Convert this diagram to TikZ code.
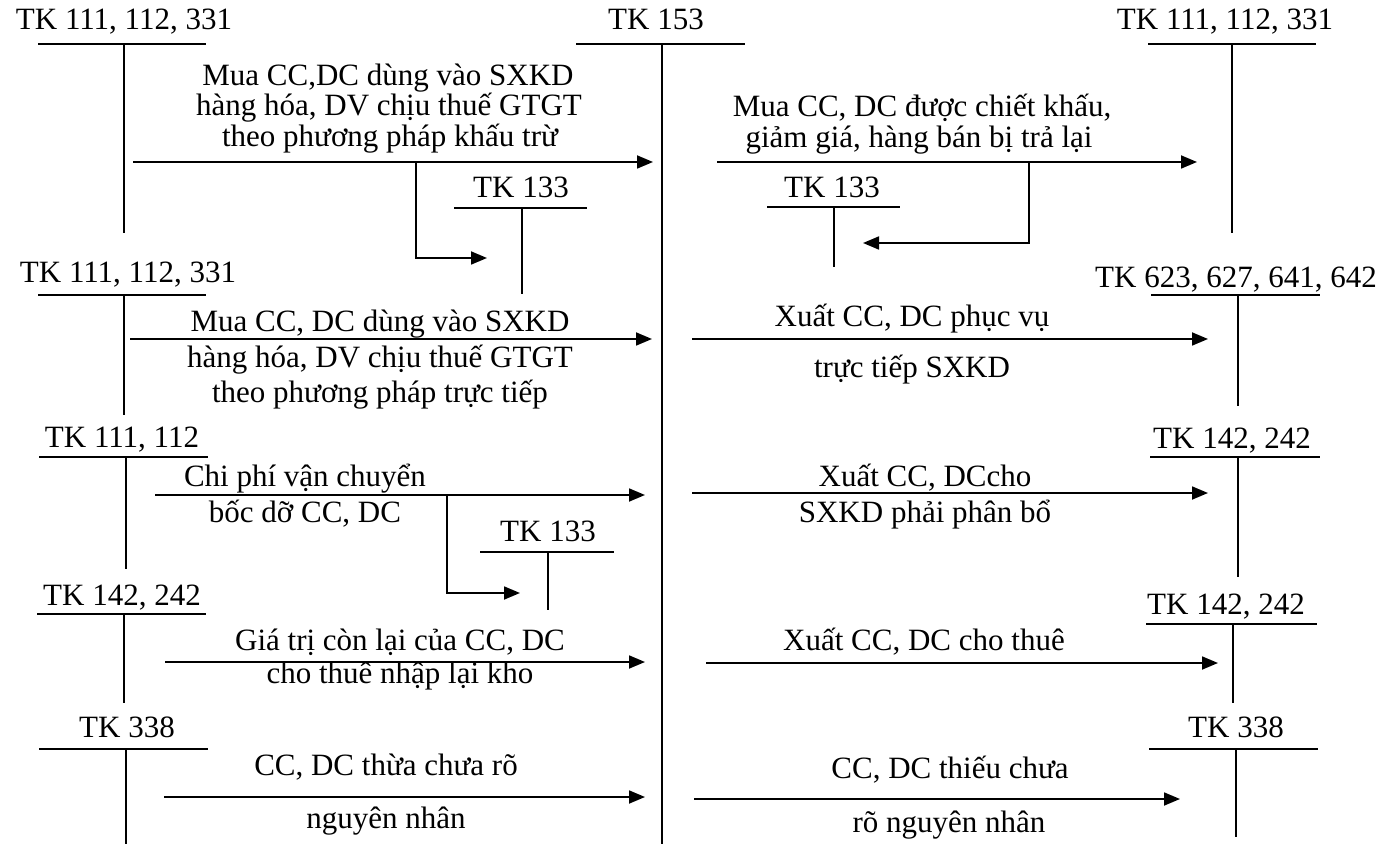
\documentclass[tikz,border=0pt]{standalone}
\usepackage{fontspec}
\setmainfont{Liberation Serif}
\usetikzlibrary{arrows.meta}

\begin{document}
\begin{tikzpicture}[x=0.5pt, y=-0.5pt,
    >={Triangle[length=8pt, width=6.5pt]},
    lbl/.style={anchor=base, inner sep=0pt, font=\fontsize{15.5}{18}\selectfont},
    bar/.style={line width=1pt},
    stem/.style={line width=0.65pt},
    flow/.style={->, line width=0.9pt}]
    \useasboundingbox (0,0) rectangle (1397,844);

    % 1. Tài khoản 153 ở giữa
    \node[lbl] (tk153) at (656,30) {TK 153};
    \draw[bar] (576,44) -- (745,44);
    \draw[stem] (662,44) -- (662,844);

    % 2. Các tài khoản bên trái
    \node[lbl] (tkL1) at (124,30) {TK 111, 112, 331};
    \draw[bar] (38,44) -- (206,44);
    \draw[stem] (124,44) -- (124,233);
    \node[lbl] (tkL2) at (128,283) {TK 111, 112, 331};
    \draw[bar] (38,295) -- (206,295);
    \draw[stem] (124,295) -- (124,415);
    \node[lbl] (tkL3) at (122,448) {TK 111, 112};
    \draw[bar] (39,457) -- (208,457);
    \draw[stem] (126,457) -- (126,569);
    \node[lbl] (tkL4) at (122,605) {TK 142, 242};
    \draw[bar] (37,614) -- (206,614);
    \draw[stem] (124,614) -- (124,703);
    \node[lbl] (tkL5) at (127,737) {TK 338};
    \draw[bar] (39,749) -- (208,749);
    \draw[stem] (126,749) -- (126,844);

    % 3. Các tài khoản 133
    \node[lbl] (vat1) at (521,198) {TK 133};
    \draw[bar] (454,208) -- (587,208);
    \draw[stem] (522,208) -- (522,294);
    \node[lbl] (vat2) at (832,198) {TK 133};
    \draw[bar] (767,207) -- (900,207);
    \draw[stem] (834,207) -- (834,267);
    \node[lbl] (vat3) at (548,541) {TK 133};
    \draw[bar] (480,552) -- (614,552);
    \draw[stem] (548,552) -- (548,610);

    % 4. Các tài khoản bên phải
    \node[lbl] (tkR1) at (1225,30) {TK 111, 112, 331};
    \draw[bar] (1148,44) -- (1316,44);
    \draw[stem] (1232,44) -- (1232,233);
    \node[lbl] (tkR2) at (1236,288) {TK 623, 627, 641, 642};
    \draw[bar] (1151,295) -- (1320,295);
    \draw[stem] (1238,295) -- (1238,406);
    \node[lbl] (tkR3) at (1232,449) {TK 142, 242};
    \draw[bar] (1150,457) -- (1320,457);
    \draw[stem] (1238,457) -- (1238,577);
    \node[lbl] (tkR4) at (1226,614) {TK 142, 242};
    \draw[bar] (1146,624) -- (1317,624);
    \draw[stem] (1233,624) -- (1233,703);
    \node[lbl] (tkR5) at (1236,737) {TK 338};
    \draw[bar] (1149,749) -- (1318,749);
    \draw[stem] (1236,749) -- (1236,837);

    % 5. Các mũi tên ghi Nợ TK 153
    \coordinate (a1s) at (133,162);  \coordinate (a1e) at (653,162);
    \coordinate (a1k) at (416,162);  \coordinate (a1t) at (487,258);
    \draw[flow] (a1s) -- (a1e);
    \draw[flow] (a1k) |- (a1t);
    \node[lbl] (a1x) at (388,86) {Mua CC,DC dùng vào SXKD};
    \node[lbl] (a1y) at (389,116) {hàng hóa, DV chịu thuế GTGT};
    \node[lbl] (a1z) at (390,147) {theo phương pháp khấu trừ};

    \coordinate (a2s) at (130,339);  \coordinate (a2e) at (652,339);
    \draw[flow] (a2s) -- (a2e);
    \node[lbl] (a2x) at (380,332) {Mua CC, DC dùng vào SXKD};
    \node[lbl] (a2y) at (380,368) {hàng hóa, DV chịu thuế GTGT};
    \node[lbl] (a2z) at (380,402) {theo phương pháp trực tiếp};

    \coordinate (a3s) at (155,495);  \coordinate (a3e) at (645,495);
    \coordinate (a3k) at (447,495);  \coordinate (a3t) at (520,593);
    \draw[flow] (a3s) -- (a3e);
    \draw[flow] (a3k) |- (a3t);
    \node[lbl] (a3x) at (305,487) {Chi phí vận chuyển};
    \node[lbl] (a3y) at (305,522) {bốc dỡ CC, DC};

    \coordinate (a4s) at (165,662);  \coordinate (a4e) at (645,662);
    \draw[flow] (a4s) -- (a4e);
    \node[lbl] (a4x) at (400,650) {Giá trị còn lại của CC, DC};
    \node[lbl] (a4y) at (400,683) {cho thuê nhập lại kho};

    \coordinate (a5s) at (164,797);  \coordinate (a5e) at (645,797);
    \draw[flow] (a5s) -- (a5e);
    \node[lbl] (a5x) at (386,775) {CC, DC thừa chưa rõ};
    \node[lbl] (a5y) at (386,828) {nguyên nhân};

    % 6. Các mũi tên ghi Có TK 153
    \coordinate (b1s) at (717,162);  \coordinate (b1e) at (1197,162);
    \coordinate (b1k) at (1029,162); \coordinate (b1t) at (863,243);
    \draw[flow] (b1s) -- (b1e);
    \draw[flow] (b1k) |- (b1t);
    \node[lbl] (b1x) at (922,117) {Mua CC, DC được chiết khấu,};
    \node[lbl] (b1y) at (919,148) {giảm giá, hàng bán bị trả lại};

    \coordinate (b2s) at (692,339);  \coordinate (b2e) at (1208,339);
    \draw[flow] (b2s) -- (b2e);
    \node[lbl] (b2x) at (912,327) {Xuất CC, DC phục vụ};
    \node[lbl] (b2y) at (912,378) {trực tiếp SXKD};

    \coordinate (b3s) at (692,493);  \coordinate (b3e) at (1208,493);
    \draw[flow] (b3s) -- (b3e);
    \node[lbl] (b3x) at (925,487) {Xuất CC, DCcho};
    \node[lbl] (b3y) at (925,522) {SXKD phải phân bổ};

    \coordinate (b4s) at (706,663);  \coordinate (b4e) at (1218,663);
    \draw[flow] (b4s) -- (b4e);
    \node[lbl] (b4x) at (924,650) {Xuất CC, DC cho thuê};

    \coordinate (b5s) at (694,799);  \coordinate (b5e) at (1180,799);
    \draw[flow] (b5s) -- (b5e);
    \node[lbl] (b5x) at (950,778) {CC, DC thiếu chưa};
    \node[lbl] (b5y) at (949,832) {rõ nguyên nhân};
\end{tikzpicture}
\end{document}
